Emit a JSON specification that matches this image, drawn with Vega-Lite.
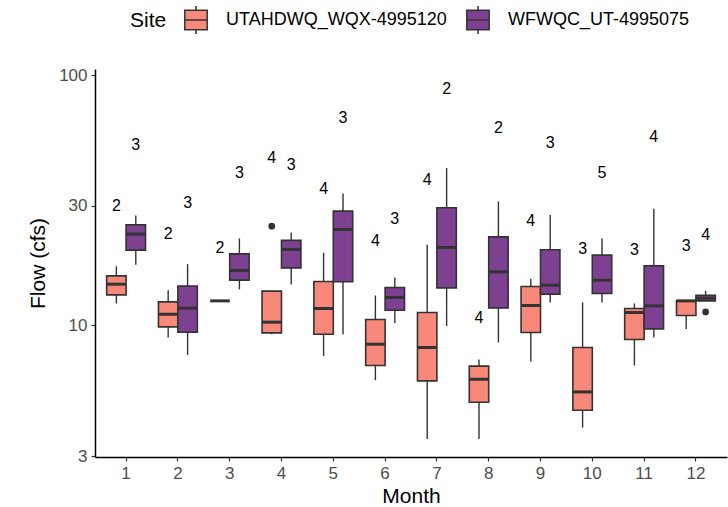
{
  "$schema": "https://vega.github.io/schema/vega-lite/v6.json",
  "autosize": {"type": "none"},
  "padding": {"left": 95, "top": 69, "right": 1, "bottom": 50},
  "width": 632,
  "height": 388,
  "background": "white",
  "datasets": {
    "boxes": [
      {"Month": 1, "Site": "UTAHDWQ_WQX-4995120", "lo": 12.24, "q1": 13.25, "med": 14.62, "q3": 15.78, "hi": 17.25, "n": 2, "label_y": 29.97},
      {"Month": 1, "Site": "WFWQC_UT-4995075", "lo": 17.46, "q1": 19.99, "med": 23.17, "q3": 25.23, "hi": 27.52, "n": 3, "label_y": 52.5},
      {"Month": 2, "Site": "UTAHDWQ_WQX-4995120", "lo": 8.96, "q1": 9.87, "med": 11.09, "q3": 12.43, "hi": 13.84, "n": 2, "label_y": 23.17},
      {"Month": 2, "Site": "WFWQC_UT-4995075", "lo": 7.63, "q1": 9.4, "med": 11.73, "q3": 14.36, "hi": 17.58, "n": 3, "label_y": 30.72},
      {"Month": 3, "Site": "UTAHDWQ_WQX-4995120", "lo": 12.54, "q1": 12.54, "med": 12.54, "q3": 12.54, "hi": 12.54, "n": 2, "label_y": 20.3},
      {"Month": 3, "Site": "WFWQC_UT-4995075", "lo": 13.93, "q1": 15.17, "med": 16.59, "q3": 19.32, "hi": 22.26, "n": 3, "label_y": 40.71},
      {"Month": 4, "Site": "UTAHDWQ_WQX-4995120", "lo": 9.23, "q1": 9.34, "med": 10.31, "q3": 13.71, "hi": 13.71, "n": 4, "label_y": 46.48},
      {"Month": 4, "Site": "WFWQC_UT-4995075", "lo": 14.58, "q1": 16.99, "med": 20.12, "q3": 21.86, "hi": 23.53, "n": 3, "label_y": 43.69},
      {"Month": 5, "Site": "UTAHDWQ_WQX-4995120", "lo": 7.56, "q1": 9.23, "med": 11.69, "q3": 14.99, "hi": 19.5, "n": 4, "label_y": 34.94},
      {"Month": 5, "Site": "WFWQC_UT-4995075", "lo": 9.23, "q1": 14.94, "med": 24.18, "q3": 28.62, "hi": 33.68, "n": 3, "label_y": 67.5},
      {"Month": 6, "Site": "UTAHDWQ_WQX-4995120", "lo": 6.05, "q1": 6.92, "med": 8.42, "q3": 10.57, "hi": 13.18, "n": 4, "label_y": 21.72},
      {"Month": 6, "Site": "WFWQC_UT-4995075", "lo": 10.24, "q1": 11.51, "med": 12.94, "q3": 14.18, "hi": 15.55, "n": 3, "label_y": 26.59},
      {"Month": 7, "Site": "UTAHDWQ_WQX-4995120", "lo": 3.52, "q1": 6.01, "med": 8.17, "q3": 11.27, "hi": 20.99, "n": 4, "label_y": 38.06},
      {"Month": 7, "Site": "WFWQC_UT-4995075", "lo": 9.94, "q1": 14.13, "med": 20.49, "q3": 29.5, "hi": 42.5, "n": 2, "label_y": 87.9},
      {"Month": 8, "Site": "UTAHDWQ_WQX-4995120", "lo": 3.52, "q1": 4.94, "med": 6.1, "q3": 6.88, "hi": 7.31, "n": 4, "label_y": 10.72},
      {"Month": 8, "Site": "WFWQC_UT-4995075", "lo": 8.55, "q1": 11.76, "med": 16.37, "q3": 22.59, "hi": 31.29, "n": 2, "label_y": 61.4},
      {"Month": 9, "Site": "UTAHDWQ_WQX-4995120", "lo": 7.18, "q1": 9.38, "med": 12.02, "q3": 14.32, "hi": 15.36, "n": 4, "label_y": 26.1},
      {"Month": 9, "Site": "WFWQC_UT-4995075", "lo": 12.36, "q1": 13.34, "med": 14.49, "q3": 20.05, "hi": 27.59, "n": 3, "label_y": 53.35},
      {"Month": 10, "Site": "UTAHDWQ_WQX-4995120", "lo": 3.91, "q1": 4.59, "med": 5.43, "q3": 8.17, "hi": 12.36, "n": 3, "label_y": 20.12},
      {"Month": 10, "Site": "WFWQC_UT-4995075", "lo": 12.36, "q1": 13.42, "med": 15.17, "q3": 19.09, "hi": 22.26, "n": 5, "label_y": 40.71},
      {"Month": 11, "Site": "UTAHDWQ_WQX-4995120", "lo": 6.92, "q1": 8.79, "med": 11.27, "q3": 11.69, "hi": 12.24, "n": 3, "label_y": 19.99},
      {"Month": 11, "Site": "WFWQC_UT-4995075", "lo": 8.96, "q1": 9.69, "med": 11.98, "q3": 17.3, "hi": 29.24, "n": 4, "label_y": 56.7},
      {"Month": 12, "Site": "UTAHDWQ_WQX-4995120", "lo": 9.69, "q1": 10.96, "med": 12.54, "q3": 12.54, "hi": 12.54, "n": 3, "label_y": 20.8},
      {"Month": 12, "Site": "WFWQC_UT-4995075", "lo": 12.54, "q1": 12.54, "med": 12.86, "q3": 13.21, "hi": 13.75, "n": 4, "label_y": 22.96}
    ],
    "outliers": [
      {"Month": 4, "Site": "UTAHDWQ_WQX-4995120", "Flow": 24.93},
      {"Month": 12, "Site": "WFWQC_UT-4995075", "Flow": 11.33}
    ]
  },
  "encoding": {
    "x": {
      "field": "Month",
      "type": "ordinal",
      "scale": {"type": "band", "paddingInner": 0.25, "paddingOuter": 0.225},
      "axis": {
        "title": "Month",
        "labelAngle": 0,
        "labelFontSize": 17,
        "labelColor": "#4D4D4D",
        "labelPadding": 4,
        "titleFontSize": 21,
        "titleFontWeight": "normal",
        "titleColor": "black",
        "titlePadding": 4,
        "tickColor": "#333333",
        "tickSize": 4,
        "tickWidth": 1.2,
        "domainColor": "black",
        "domainWidth": 1.5,
        "grid": false
      }
    },
    "xOffset": {
      "field": "Site",
      "type": "nominal",
      "scale": {"paddingInner": 0, "paddingOuter": 0}
    }
  },
  "layer": [
    {
      "data": {"name": "boxes"},
      "mark": {"type": "rule", "color": "#333333", "strokeWidth": 1.4},
      "encoding": {
        "y": {
          "field": "lo",
          "type": "quantitative",
          "scale": {"type": "log", "domain": [2.985, 105.7], "nice": false, "zero": false},
          "axis": {
            "title": "Flow (cfs)",
            "values": [3, 10, 30, 100],
            "format": "d",
            "labelFontSize": 17,
            "labelColor": "#4D4D4D",
            "labelPadding": 4,
            "titleFontSize": 21,
            "titleFontWeight": "normal",
            "titleColor": "black",
            "titlePadding": 10,
            "tickColor": "#333333",
            "tickSize": 4,
            "tickWidth": 1.2,
            "domainColor": "black",
            "domainWidth": 1.5,
            "grid": false
          }
        },
        "y2": {"field": "hi"}
      }
    },
    {
      "data": {"name": "boxes"},
      "mark": {"type": "bar", "stroke": "#333333", "strokeWidth": 1.6, "opacity": 1},
      "encoding": {
        "y": {"field": "q1", "type": "quantitative"},
        "y2": {"field": "q3"},
        "fill": {
          "field": "Site",
          "type": "nominal",
          "scale": {
            "domain": ["UTAHDWQ_WQX-4995120", "WFWQC_UT-4995075"],
            "range": ["#F8887A", "#7E4192"]
          },
          "legend": {
            "title": "Site",
            "orient": "none",
            "legendX": 35,
            "legendY": -64,
            "direction": "horizontal",
            "titleOrient": "left",
            "titleFontSize": 21,
            "titleFontWeight": "normal",
            "titleColor": "black",
            "titlePadding": 14,
            "labelFontSize": 18,
            "labelColor": "black",
            "labelLimit": 0,
            "labelOffset": 15,
            "columnPadding": 16,
            "symbolType": "M-0.8,-0.7H0.8V0.7H-0.8Z M-0.8,0H0.8 M0,-0.7V-1 M0,0.7V1",
            "symbolSize": 784,
            "symbolStrokeColor": "#333333",
            "symbolStrokeWidth": 1.5,
            "symbolOpacity": 1
          }
        }
      }
    },
    {
      "data": {"name": "boxes"},
      "mark": {"type": "tick", "orient": "horizontal", "color": "#333333", "thickness": 3, "size": 19.4, "opacity": 1},
      "encoding": {
        "y": {"field": "med", "type": "quantitative"}
      }
    },
    {
      "data": {"name": "outliers"},
      "mark": {"type": "point", "filled": true, "color": "#333333", "size": 45, "opacity": 1},
      "encoding": {
        "y": {"field": "Flow", "type": "quantitative"}
      }
    },
    {
      "data": {"name": "boxes"},
      "mark": {"type": "text", "fontSize": 16, "color": "black", "baseline": "middle", "align": "center"},
      "encoding": {
        "y": {"field": "label_y", "type": "quantitative"},
        "text": {"field": "n", "type": "quantitative"}
      }
    }
  ],
  "config": {
    "view": {"stroke": null},
    "font": "Liberation Sans"
  }
}
